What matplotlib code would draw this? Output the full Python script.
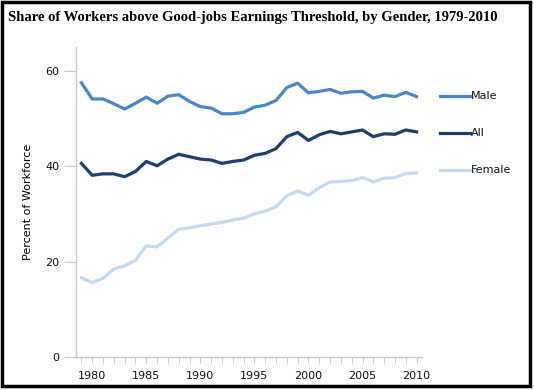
import numpy as np
import matplotlib
matplotlib.use('Agg')
import matplotlib.pyplot as plt
from matplotlib.patches import Rectangle
from matplotlib.lines import Line2D

# Values (percent of workforce)
years = list(range(1979, 2011))
male = [57.5, 54.1, 54.1, 53.1, 52.0, 53.2, 54.5, 53.2, 54.7, 55.0,
        53.6, 52.5, 52.2, 51.0, 51.0, 51.3, 52.4, 52.8, 53.8, 56.5,
        57.4, 55.4, 55.7, 56.1, 55.3, 55.6, 55.7, 54.3, 54.9, 54.6,
        55.5, 54.6]
all_workers = [40.6, 38.1, 38.4, 38.4, 37.8, 38.9, 41.0, 40.1, 41.5, 42.5,
               42.0, 41.5, 41.3, 40.6, 41.0, 41.3, 42.3, 42.7, 43.7, 46.2,
               47.1, 45.4, 46.6, 47.3, 46.8, 47.2, 47.6, 46.2, 46.8, 46.7,
               47.6, 47.2]
female = [16.6, 15.6, 16.5, 18.5, 19.1, 20.3, 23.3, 23.1, 24.9, 26.8,
          27.1, 27.5, 27.9, 28.2, 28.7, 29.1, 30.0, 30.6, 31.5, 33.8,
          34.8, 33.9, 35.5, 36.7, 36.8, 37.0, 37.6, 36.7, 37.5, 37.6,
          38.5, 38.6]

series = [('Male', male, '#4a86cc'),
          ('All', all_workers, '#1b3f72'),
          ('Female', female, '#c5d9f1')]

fig = plt.figure(figsize=(5.34, 3.9), dpi=100)
ax = fig.add_axes([76 / 534, 33 / 390, 346 / 534, 310 / 390])

for name, vals, col in series:
    ax.plot(years, vals, color=col, linewidth=2.3, solid_joinstyle='round')

ax.set_xlim(1978.5, 2010.5)
ax.set_ylim(0, 65)
ax.set_yticks([0, 20, 40, 60])
ax.set_xticks(range(1980, 2011, 5))
ax.set_xticks(range(1979, 2011), minor=True)

for side in ['top', 'right']:
    ax.spines[side].set_visible(False)
for side in ['left', 'bottom']:
    ax.spines[side].set_color('#c8c8c8')
    ax.spines[side].set_linewidth(1.0)

ax.tick_params(axis='both', which='both', color='#c8c8c8', labelsize=8,
               labelcolor='#111111')
ax.tick_params(axis='y', length=9, pad=3)
ax.tick_params(axis='x', which='both', length=4, pad=6)
ax.set_ylabel('Percent of Workforce', fontsize=8, labelpad=9)

# Legend drawn as line + label at the right side
leg_y = [96, 133, 170]
for (name, vals, col), py in zip(series, leg_y):
    yf = 1 - py / 390
    fig.add_artist(Line2D([440 / 534, 470 / 534], [yf, yf], color=col,
                          linewidth=2.3, transform=fig.transFigure))
    fig.text(471 / 534, yf, name, fontsize=8, va='center', ha='left',
             color='#111111')

fig.text(8 / 534, 1 - 17 / 390, 'Share of Workers above Good-jobs Earnings Threshold, by Gender, 1979-2010',
         fontsize=10.5, fontweight='bold', family='Liberation Serif',
         va='center', ha='left')

# black frame around the chart
fig.add_artist(Rectangle((1.5 / 534, 4.5 / 390), 528 / 534, 384 / 390,
                         transform=fig.transFigure, fill=False,
                         edgecolor='black', linewidth=2.5))

fig.savefig('out.png', dpi=100)
